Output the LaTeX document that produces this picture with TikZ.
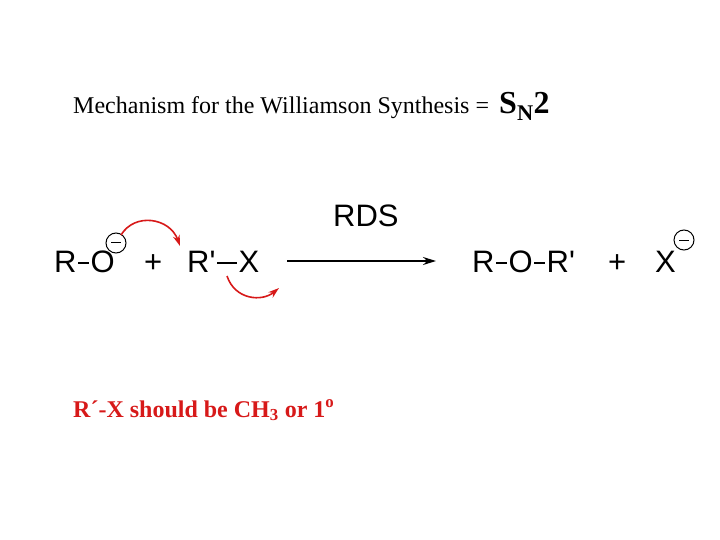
\documentclass[tikz,border=0pt]{standalone}
\usepackage{fontspec}
\setmainfont{Liberation Serif}
\newfontfamily\arial{Liberation Sans}
\usetikzlibrary{arrows.meta}
\definecolor{myred}{RGB}{215,25,25}
\newcommand{\bnd}[1]{\kern1.5pt\raisebox{8.5pt}{\rule{#1}{1.6pt}}\kern1.5pt}
\begin{document}
\begin{tikzpicture}[x=1pt,y=-1pt,
  chem/.style={font=\arial\fontsize{31}{31}\selectfont, inner sep=0pt, anchor=base west},
  charge/.style={circle, draw, line width=1pt, minimum size=20pt, inner sep=0pt},
  redarrow/.style={draw=myred, line width=1.6pt, -{Stealth[length=11pt,width=7pt]}}]
\useasboundingbox (0,0) rectangle (720,540);
\node[anchor=base west, inner sep=0pt, font=\fontsize{24}{24}\selectfont] (title) at (73,114) {Mechanism for the Williamson Synthesis =};
\node[anchor=base west, inner sep=0pt, font=\bfseries\fontsize{32}{32}\selectfont] (sn2) at (499,114) {S\textsubscript{N}2};
\node[chem] (ro) at (54,272) {R\bnd{11pt}O};
\node[charge] (c1) at (116,243) {\rule{10pt}{1pt}};
\node[chem] (p1) at (144,272) {+};
\node[chem] (rx) at (187,272) {R'\bnd{20pt}X};
\node[chem] (rds) at (333,226) {RDS};
\coordinate (a1) at (287,261);
\coordinate (a2) at (436,261);
\draw[line width=1.8pt, -{Stealth[length=13pt,width=8pt]}] (a1) -- (a2);
\node[chem] (prod) at (472,272) {R\bnd{11pt}O\bnd{11pt}R'};
\node[chem] (p2) at (608,272) {+};
\node[chem] (x2) at (655,272) {X};
\node[charge] (c2) at (684,240) {\rule{10pt}{1pt}};
\coordinate (s1) at (121,235);
\coordinate (e1) at (180,246);
\draw[redarrow] (s1) .. controls (135,212) and (170,218) .. (e1);
\coordinate (s2) at (227,276);
\coordinate (e2) at (279,288);
\draw[redarrow] (s2) .. controls (235,300) and (262,302) .. (e2);
\node[anchor=base west, inner sep=0pt, text=myred, font=\bfseries\fontsize{24}{24}\selectfont] (note) at (73,417) {R´-X should be CH\textsubscript{3} or 1\textsuperscript{o}};
\end{tikzpicture}
\end{document}
